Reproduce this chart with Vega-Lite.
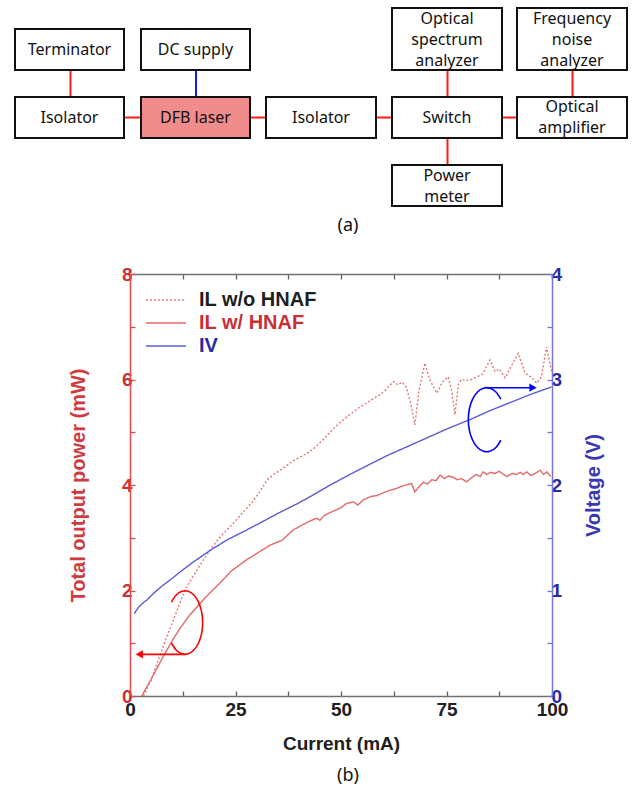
{
  "$schema": "https://vega.github.io/schema/vega-lite/v6.json",
  "background": "white",
  "padding": {"left": 14, "top": 0, "right": 0, "bottom": 0},
  "bounds": "flush",
  "spacing": 34,
  "resolve": {"scale": {"x": "independent", "y": "independent", "color": "independent", "strokeDash": "independent", "stroke": "independent", "fill": "independent"}, "legend": {"color": "independent", "strokeDash": "independent"}},
  "config": {"view": {"stroke": null}, "axis": {"grid": false}},
  "datasets": {
    "boxes": [
      {"label": "Terminator", "kind": "device", "x1": 15, "x2": 124, "y1": 29, "y2": 70, "cx": 69.5, "ty": 49.5},
      {"label": "DC supply", "kind": "device", "x1": 141, "x2": 250, "y1": 29, "y2": 70, "cx": 195.5, "ty": 49.5},
      {"label": "Optical\nspectrum\nanalyzer", "kind": "device", "x1": 392, "x2": 502, "y1": 8, "y2": 70, "cx": 447, "ty": 19},
      {"label": "Frequency\nnoise\nanalyzer", "kind": "device", "x1": 517, "x2": 627, "y1": 8, "y2": 70, "cx": 572, "ty": 19},
      {"label": "Isolator", "kind": "device", "x1": 15, "x2": 124, "y1": 97, "y2": 138, "cx": 69.5, "ty": 117.5},
      {"label": "DFB laser", "kind": "laser", "x1": 141, "x2": 250, "y1": 97, "y2": 138, "cx": 195.5, "ty": 117.5},
      {"label": "Isolator", "kind": "device", "x1": 266, "x2": 376, "y1": 97, "y2": 138, "cx": 321, "ty": 117.5},
      {"label": "Switch", "kind": "device", "x1": 392, "x2": 502, "y1": 97, "y2": 138, "cx": 447, "ty": 117.5},
      {"label": "Optical\namplifier", "kind": "device", "x1": 517, "x2": 627, "y1": 97, "y2": 138, "cx": 572, "ty": 107},
      {"label": "Power\nmeter", "kind": "device", "x1": 392, "x2": 502, "y1": 165, "y2": 206, "cx": 447, "ty": 176}
    ],
    "links": [
      {"kind": "optical", "x1": 70.5, "x2": 70.5, "y1": 70, "y2": 97},
      {"kind": "electrical", "x1": 196, "x2": 196, "y1": 70, "y2": 97},
      {"kind": "optical", "x1": 447.5, "x2": 447.5, "y1": 70, "y2": 97},
      {"kind": "optical", "x1": 572.5, "x2": 572.5, "y1": 70, "y2": 97},
      {"kind": "optical", "x1": 447.5, "x2": 447.5, "y1": 138, "y2": 165},
      {"kind": "optical", "x1": 124, "x2": 141, "y1": 117.5, "y2": 117.5},
      {"kind": "optical", "x1": 250, "x2": 266, "y1": 117.5, "y2": 117.5},
      {"kind": "optical", "x1": 376, "x2": 392, "y1": 117.5, "y2": 117.5},
      {"kind": "optical", "x1": 502, "x2": 517, "y1": 117.5, "y2": 117.5}
    ],
    "captions": [{"label": "(a)", "cx": 348, "ty": 226}],
    "il": [
      {"series": "IL w/o HNAF", "I": 3.2, "P": 0},
      {"series": "IL w/o HNAF", "I": 5, "P": 0.3},
      {"series": "IL w/o HNAF", "I": 7, "P": 0.75},
      {"series": "IL w/o HNAF", "I": 8.7, "P": 1.12},
      {"series": "IL w/o HNAF", "I": 10, "P": 1.38},
      {"series": "IL w/o HNAF", "I": 11.5, "P": 1.7},
      {"series": "IL w/o HNAF", "I": 13, "P": 2.0},
      {"series": "IL w/o HNAF", "I": 15, "P": 2.28},
      {"series": "IL w/o HNAF", "I": 17, "P": 2.53},
      {"series": "IL w/o HNAF", "I": 19, "P": 2.77},
      {"series": "IL w/o HNAF", "I": 21, "P": 2.98},
      {"series": "IL w/o HNAF", "I": 23, "P": 3.15},
      {"series": "IL w/o HNAF", "I": 25, "P": 3.32},
      {"series": "IL w/o HNAF", "I": 27, "P": 3.5},
      {"series": "IL w/o HNAF", "I": 29, "P": 3.68},
      {"series": "IL w/o HNAF", "I": 31, "P": 3.9},
      {"series": "IL w/o HNAF", "I": 32.5, "P": 4.1},
      {"series": "IL w/o HNAF", "I": 34, "P": 4.2},
      {"series": "IL w/o HNAF", "I": 36, "P": 4.3},
      {"series": "IL w/o HNAF", "I": 38.5, "P": 4.45},
      {"series": "IL w/o HNAF", "I": 40, "P": 4.52},
      {"series": "IL w/o HNAF", "I": 42, "P": 4.6},
      {"series": "IL w/o HNAF", "I": 44, "P": 4.72},
      {"series": "IL w/o HNAF", "I": 46, "P": 4.88},
      {"series": "IL w/o HNAF", "I": 48, "P": 5.05},
      {"series": "IL w/o HNAF", "I": 50, "P": 5.2},
      {"series": "IL w/o HNAF", "I": 52, "P": 5.33},
      {"series": "IL w/o HNAF", "I": 54.5, "P": 5.48},
      {"series": "IL w/o HNAF", "I": 56, "P": 5.55},
      {"series": "IL w/o HNAF", "I": 57.7, "P": 5.64},
      {"series": "IL w/o HNAF", "I": 59, "P": 5.7},
      {"series": "IL w/o HNAF", "I": 60.5, "P": 5.8},
      {"series": "IL w/o HNAF", "I": 62.4, "P": 5.96},
      {"series": "IL w/o HNAF", "I": 63.5, "P": 5.9},
      {"series": "IL w/o HNAF", "I": 64.5, "P": 5.95},
      {"series": "IL w/o HNAF", "I": 65.5, "P": 5.85},
      {"series": "IL w/o HNAF", "I": 66.5, "P": 5.55},
      {"series": "IL w/o HNAF", "I": 67.5, "P": 5.14},
      {"series": "IL w/o HNAF", "I": 68.5, "P": 5.8},
      {"series": "IL w/o HNAF", "I": 69.9, "P": 6.31},
      {"series": "IL w/o HNAF", "I": 71, "P": 6.0},
      {"series": "IL w/o HNAF", "I": 72.7, "P": 5.74},
      {"series": "IL w/o HNAF", "I": 74, "P": 5.95},
      {"series": "IL w/o HNAF", "I": 75.4, "P": 6.05},
      {"series": "IL w/o HNAF", "I": 76.2, "P": 5.8},
      {"series": "IL w/o HNAF", "I": 77, "P": 5.33},
      {"series": "IL w/o HNAF", "I": 77.8, "P": 5.9},
      {"series": "IL w/o HNAF", "I": 78.5, "P": 6.0},
      {"series": "IL w/o HNAF", "I": 79.5, "P": 5.98},
      {"series": "IL w/o HNAF", "I": 81, "P": 6.0},
      {"series": "IL w/o HNAF", "I": 82.2, "P": 6.05},
      {"series": "IL w/o HNAF", "I": 83.5, "P": 6.1},
      {"series": "IL w/o HNAF", "I": 85.3, "P": 6.37},
      {"series": "IL w/o HNAF", "I": 86.5, "P": 6.15},
      {"series": "IL w/o HNAF", "I": 87.5, "P": 6.2},
      {"series": "IL w/o HNAF", "I": 88.9, "P": 6.03},
      {"series": "IL w/o HNAF", "I": 90, "P": 6.2},
      {"series": "IL w/o HNAF", "I": 92, "P": 6.5},
      {"series": "IL w/o HNAF", "I": 93.6, "P": 6.12},
      {"series": "IL w/o HNAF", "I": 95, "P": 6.05},
      {"series": "IL w/o HNAF", "I": 96.4, "P": 5.93},
      {"series": "IL w/o HNAF", "I": 97.5, "P": 6.05},
      {"series": "IL w/o HNAF", "I": 98.7, "P": 6.62},
      {"series": "IL w/o HNAF", "I": 99.9, "P": 6.15},
      {"series": "IL w/ HNAF", "I": 2.8, "P": 0},
      {"series": "IL w/ HNAF", "I": 5, "P": 0.32},
      {"series": "IL w/ HNAF", "I": 7.9, "P": 0.75},
      {"series": "IL w/ HNAF", "I": 10, "P": 1.05},
      {"series": "IL w/ HNAF", "I": 12, "P": 1.3},
      {"series": "IL w/ HNAF", "I": 14.2, "P": 1.54},
      {"series": "IL w/ HNAF", "I": 16, "P": 1.7},
      {"series": "IL w/ HNAF", "I": 18, "P": 1.88},
      {"series": "IL w/ HNAF", "I": 21.3, "P": 2.14},
      {"series": "IL w/ HNAF", "I": 24, "P": 2.37},
      {"series": "IL w/ HNAF", "I": 27.6, "P": 2.58},
      {"series": "IL w/ HNAF", "I": 30, "P": 2.7},
      {"series": "IL w/ HNAF", "I": 33.2, "P": 2.86},
      {"series": "IL w/ HNAF", "I": 35, "P": 2.92},
      {"series": "IL w/ HNAF", "I": 36, "P": 2.95},
      {"series": "IL w/ HNAF", "I": 38.7, "P": 3.15},
      {"series": "IL w/ HNAF", "I": 41, "P": 3.25},
      {"series": "IL w/ HNAF", "I": 43, "P": 3.33},
      {"series": "IL w/ HNAF", "I": 44.2, "P": 3.37},
      {"series": "IL w/ HNAF", "I": 45, "P": 3.33},
      {"series": "IL w/ HNAF", "I": 46, "P": 3.42},
      {"series": "IL w/ HNAF", "I": 48, "P": 3.5},
      {"series": "IL w/ HNAF", "I": 49.8, "P": 3.56},
      {"series": "IL w/ HNAF", "I": 51.3, "P": 3.65},
      {"series": "IL w/ HNAF", "I": 53, "P": 3.68},
      {"series": "IL w/ HNAF", "I": 54, "P": 3.62},
      {"series": "IL w/ HNAF", "I": 55.3, "P": 3.72},
      {"series": "IL w/ HNAF", "I": 57, "P": 3.78},
      {"series": "IL w/ HNAF", "I": 58.5, "P": 3.8},
      {"series": "IL w/ HNAF", "I": 60, "P": 3.85},
      {"series": "IL w/ HNAF", "I": 61.6, "P": 3.9},
      {"series": "IL w/ HNAF", "I": 63, "P": 3.93},
      {"series": "IL w/ HNAF", "I": 64.5, "P": 3.98},
      {"series": "IL w/ HNAF", "I": 65.5, "P": 4.0},
      {"series": "IL w/ HNAF", "I": 66.7, "P": 4.03},
      {"series": "IL w/ HNAF", "I": 67.5, "P": 3.87},
      {"series": "IL w/ HNAF", "I": 68.3, "P": 3.95},
      {"series": "IL w/ HNAF", "I": 69.5, "P": 4.05},
      {"series": "IL w/ HNAF", "I": 70.5, "P": 4.02},
      {"series": "IL w/ HNAF", "I": 71.5, "P": 4.1},
      {"series": "IL w/ HNAF", "I": 72.5, "P": 4.08},
      {"series": "IL w/ HNAF", "I": 73.5, "P": 4.19},
      {"series": "IL w/ HNAF", "I": 74.5, "P": 4.12},
      {"series": "IL w/ HNAF", "I": 75.5, "P": 4.17},
      {"series": "IL w/ HNAF", "I": 76.5, "P": 4.15},
      {"series": "IL w/ HNAF", "I": 77.5, "P": 4.1},
      {"series": "IL w/ HNAF", "I": 78.5, "P": 4.12},
      {"series": "IL w/ HNAF", "I": 79.8, "P": 4.06},
      {"series": "IL w/ HNAF", "I": 81, "P": 4.14},
      {"series": "IL w/ HNAF", "I": 82, "P": 4.2},
      {"series": "IL w/ HNAF", "I": 83, "P": 4.16},
      {"series": "IL w/ HNAF", "I": 83.7, "P": 4.25},
      {"series": "IL w/ HNAF", "I": 84.5, "P": 4.2},
      {"series": "IL w/ HNAF", "I": 85.5, "P": 4.24},
      {"series": "IL w/ HNAF", "I": 86.5, "P": 4.22},
      {"series": "IL w/ HNAF", "I": 87.5, "P": 4.26},
      {"series": "IL w/ HNAF", "I": 88.5, "P": 4.2},
      {"series": "IL w/ HNAF", "I": 89.3, "P": 4.16},
      {"series": "IL w/ HNAF", "I": 90.5, "P": 4.22},
      {"series": "IL w/ HNAF", "I": 91.5, "P": 4.2},
      {"series": "IL w/ HNAF", "I": 92.5, "P": 4.24},
      {"series": "IL w/ HNAF", "I": 93.2, "P": 4.2},
      {"series": "IL w/ HNAF", "I": 94, "P": 4.25},
      {"series": "IL w/ HNAF", "I": 95, "P": 4.18},
      {"series": "IL w/ HNAF", "I": 96, "P": 4.22},
      {"series": "IL w/ HNAF", "I": 97.2, "P": 4.28},
      {"series": "IL w/ HNAF", "I": 98, "P": 4.2},
      {"series": "IL w/ HNAF", "I": 98.8, "P": 4.25},
      {"series": "IL w/ HNAF", "I": 99.7, "P": 4.16}
    ],
    "iv": [
      {"series": "IV", "I": 1.0, "V": 0.78},
      {"series": "IV", "I": 2, "V": 0.84},
      {"series": "IV", "I": 3, "V": 0.88},
      {"series": "IV", "I": 4, "V": 0.91},
      {"series": "IV", "I": 5.5, "V": 0.97},
      {"series": "IV", "I": 7.5, "V": 1.04},
      {"series": "IV", "I": 9.5, "V": 1.1},
      {"series": "IV", "I": 12, "V": 1.18},
      {"series": "IV", "I": 15, "V": 1.27},
      {"series": "IV", "I": 19, "V": 1.38},
      {"series": "IV", "I": 23, "V": 1.48},
      {"series": "IV", "I": 27, "V": 1.56},
      {"series": "IV", "I": 30.8, "V": 1.64},
      {"series": "IV", "I": 35, "V": 1.73},
      {"series": "IV", "I": 40, "V": 1.83},
      {"series": "IV", "I": 42.7, "V": 1.89},
      {"series": "IV", "I": 47, "V": 1.99},
      {"series": "IV", "I": 52.1, "V": 2.1},
      {"series": "IV", "I": 57, "V": 2.2},
      {"series": "IV", "I": 61, "V": 2.28},
      {"series": "IV", "I": 65.5, "V": 2.36},
      {"series": "IV", "I": 70, "V": 2.44},
      {"series": "IV", "I": 75, "V": 2.53},
      {"series": "IV", "I": 80.6, "V": 2.62},
      {"series": "IV", "I": 85, "V": 2.7},
      {"series": "IV", "I": 90, "V": 2.78},
      {"series": "IV", "I": 95, "V": 2.86},
      {"series": "IV", "I": 99.9, "V": 2.93}
    ],
    "annot": [
      {"side": "red", "part": "arc", "k": 0, "I": 9.82, "P": 1.781},
      {"side": "red", "part": "arc", "k": 1, "I": 10.94, "P": 1.915},
      {"side": "red", "part": "arc", "k": 2, "I": 12.30, "P": 1.987},
      {"side": "red", "part": "arc", "k": 3, "I": 13.76, "P": 1.987},
      {"side": "red", "part": "arc", "k": 4, "I": 15.13, "P": 1.915},
      {"side": "red", "part": "arc", "k": 5, "I": 16.24, "P": 1.781},
      {"side": "red", "part": "arc", "k": 6, "I": 16.97, "P": 1.599},
      {"side": "red", "part": "arc", "k": 7, "I": 17.22, "P": 1.393},
      {"side": "red", "part": "arc", "k": 8, "I": 16.97, "P": 1.187},
      {"side": "red", "part": "arc", "k": 9, "I": 16.24, "P": 1.005},
      {"side": "red", "part": "arc", "k": 10, "I": 15.13, "P": 0.871},
      {"side": "red", "part": "arc", "k": 11, "I": 13.76, "P": 0.799},
      {"side": "red", "part": "arc", "k": 12, "I": 12.30, "P": 0.799},
      {"side": "red", "part": "arc", "k": 13, "I": 10.94, "P": 0.871},
      {"side": "red", "part": "arc", "k": 14, "I": 9.82, "P": 1.005},
      {"side": "red", "part": "arrow", "k": 0, "I": 13.03, "P": 0.79},
      {"side": "red", "part": "arrow", "k": 1, "I": 2.6, "P": 0.79},
      {"side": "blue", "part": "arc", "k": 0, "I": 87.87, "P": 5.628},
      {"side": "blue", "part": "arc", "k": 1, "I": 86.71, "P": 5.764},
      {"side": "blue", "part": "arc", "k": 2, "I": 85.29, "P": 5.836},
      {"side": "blue", "part": "arc", "k": 3, "I": 83.77, "P": 5.836},
      {"side": "blue", "part": "arc", "k": 4, "I": 82.35, "P": 5.764},
      {"side": "blue", "part": "arc", "k": 5, "I": 81.19, "P": 5.628},
      {"side": "blue", "part": "arc", "k": 6, "I": 80.43, "P": 5.446},
      {"side": "blue", "part": "arc", "k": 7, "I": 80.17, "P": 5.238},
      {"side": "blue", "part": "arc", "k": 8, "I": 80.43, "P": 5.030},
      {"side": "blue", "part": "arc", "k": 9, "I": 81.19, "P": 4.848},
      {"side": "blue", "part": "arc", "k": 10, "I": 82.35, "P": 4.712},
      {"side": "blue", "part": "arc", "k": 11, "I": 83.77, "P": 4.640},
      {"side": "blue", "part": "arc", "k": 12, "I": 85.29, "P": 4.640},
      {"side": "blue", "part": "arc", "k": 13, "I": 86.71, "P": 4.712},
      {"side": "blue", "part": "arc", "k": 14, "I": 87.87, "P": 4.848},
      {"side": "blue", "part": "arrow", "k": 0, "I": 84.53, "P": 5.845},
      {"side": "blue", "part": "arrow", "k": 1, "I": 95.0, "P": 5.845}
    ],
    "heads": [
      {"side": "red", "I": 2.2, "P": 0.79},
      {"side": "blue", "I": 95.5, "P": 5.845}
    ]
  },
  "vconcat": [
    {
      "width": 422,
      "height": 240,
      "layer": [
        {
          "data": {"name": "links"},
          "mark": {"type": "rule", "strokeWidth": 2},
          "encoding": {
            "x": {"field": "x1", "type": "quantitative", "scale": {"domain": [130, 552], "nice": false, "zero": false}, "axis": null},
            "x2": {"field": "x2"},
            "y": {"field": "y1", "type": "quantitative", "scale": {"domain": [0, 240], "nice": false, "zero": false, "reverse": true}, "axis": null},
            "y2": {"field": "y2"},
            "stroke": {"field": "kind", "type": "nominal", "scale": {"domain": ["optical", "electrical"], "range": ["#FF1A1A", "#1A1AFF"]}, "legend": null}
          }
        },
        {
          "data": {"name": "boxes"},
          "mark": {"type": "rect", "stroke": "#111111", "strokeWidth": 2},
          "encoding": {
            "x": {"field": "x1", "type": "quantitative", "scale": {"domain": [130, 552], "nice": false, "zero": false}, "axis": null},
            "x2": {"field": "x2"},
            "y": {"field": "y1", "type": "quantitative", "scale": {"domain": [0, 240], "nice": false, "zero": false, "reverse": true}, "axis": null},
            "y2": {"field": "y2"},
            "fill": {"field": "kind", "type": "nominal", "scale": {"domain": ["device", "laser"], "range": ["#FFFFFF", "#F08C8C"]}, "legend": null}
          }
        },
        {
          "data": {"name": "boxes"},
          "mark": {"type": "text", "font": "Noto Sans", "fontSize": 16, "lineBreak": "\n", "lineHeight": 21, "baseline": "middle", "align": "center", "color": "#111111"},
          "encoding": {
            "x": {"field": "cx", "type": "quantitative", "scale": {"domain": [130, 552], "nice": false, "zero": false}, "axis": null},
            "y": {"field": "ty", "type": "quantitative", "scale": {"domain": [0, 240], "nice": false, "zero": false, "reverse": true}, "axis": null},
            "text": {"field": "label"}
          }
        },
        {
          "data": {"name": "captions"},
          "mark": {"type": "text", "font": "Noto Sans", "fontSize": 18, "baseline": "middle", "align": "center", "color": "#111111"},
          "encoding": {
            "x": {"field": "cx", "type": "quantitative", "scale": {"domain": [130, 552], "nice": false, "zero": false}, "axis": null},
            "y": {"field": "ty", "type": "quantitative", "scale": {"domain": [0, 240], "nice": false, "zero": false, "reverse": true}, "axis": null},
            "text": {"field": "label"}
          }
        }
      ]
    },
    {
      "width": 422,
      "height": 422,
      "title": {"text": "(b)", "orient": "bottom", "frame": "group", "anchor": "middle", "font": "Noto Sans", "fontSize": 18, "fontWeight": "normal", "color": "#111111", "offset": 14, "dx": 7},
      "resolve": {"scale": {"y": "independent"}, "axis": {"x": "independent", "y": "independent"}},
      "layer": [
        {
          "data": {"name": "il"},
          "mark": {"type": "line", "strokeWidth": 1.4},
          "encoding": {
            "x": {"field": "I", "type": "quantitative", "scale": {"domain": [0, 100], "nice": false, "zero": false},
              "axis": {"orient": "bottom", "values": [0, 12.5, 25, 37.5, 50, 62.5, 75, 87.5, 100], "labelExpr": "datum.value % 25 === 0 ? datum.label : ''", "domainColor": "#707070", "domainWidth": 1.5, "tickColor": "#606060", "tickSize": -5, "tickWidth": 1.3, "labelFont": "Liberation Sans", "labelFontSize": 19, "labelFontWeight": "bold", "labelColor": "#202020", "labelPadding": 9, "labelFlush": false, "labelOverlap": false, "title": "Current (mA)", "titleFont": "Liberation Sans", "titleFontSize": 19, "titleFontWeight": "bold", "titleColor": "#202020", "titlePadding": 15, "grid": false}},
            "y": {"field": "P", "type": "quantitative", "scale": {"domain": [0, 8], "nice": false},
              "axis": {"orient": "left", "values": [0, 1, 2, 3, 4, 5, 6, 7, 8], "labelExpr": "datum.value % 2 === 0 ? datum.label : ''", "domainColor": "#E24A4A", "domainWidth": 1.5, "tickColor": "#E24A4A", "tickSize": -5, "tickWidth": 1.3, "labelFont": "Liberation Sans", "labelFontSize": 19, "labelFontWeight": "bold", "labelColor": "#C92F37", "labelPadding": 3, "labelOverlap": false, "title": "Total output power (mW)", "titleFont": "Liberation Sans", "titleFontSize": 20, "titleFontWeight": "bold", "titleColor": "#CF3A3F", "titlePadding": 33, "grid": false}},
            "color": {"field": "series", "type": "nominal", "scale": {"domain": ["IL w/o HNAF", "IL w/ HNAF", "IV"], "range": ["#E27878", "#E26A6A", "#5B5BD6"]},
              "legend": {"title": null, "orient": "top-left", "offset": 15, "padding": 0, "symbolType": "M-1,0H3", "symbolSize": 400, "symbolStrokeWidth": 1.5, "labelFont": "Liberation Sans", "labelFontSize": 20, "labelFontWeight": "bold", "labelOffset": 32, "rowPadding": 2, "labelLimit": 300,
                "encode": {"labels": {"update": {"fill": {"signal": "datum.label === 'IV' ? '#2B2B9E' : (datum.label === 'IL w/ HNAF' ? '#C92F37' : '#1E1E1E')"}}}}}},
            "strokeDash": {"field": "series", "type": "nominal", "scale": {"domain": ["IL w/o HNAF", "IL w/ HNAF", "IV"], "range": [[2, 2], [1, 0], [1, 0]]},
              "legend": {"title": null, "orient": "top-left", "offset": 15, "padding": 0, "symbolType": "M-1,0H3", "symbolSize": 400, "symbolStrokeWidth": 1.5, "labelFont": "Liberation Sans", "labelFontSize": 20, "labelFontWeight": "bold", "labelOffset": 32, "rowPadding": 2, "labelLimit": 300,
                "encode": {"labels": {"update": {"fill": {"signal": "datum.label === 'IV' ? '#2B2B9E' : (datum.label === 'IL w/ HNAF' ? '#C92F37' : '#1E1E1E')"}}}}}}
          }
        },
        {
          "data": {"name": "iv"},
          "mark": {"type": "line", "strokeWidth": 1.4},
          "encoding": {
            "x": {"field": "I", "type": "quantitative", "scale": {"domain": [0, 100], "nice": false, "zero": false},
              "axis": {"orient": "top", "values": [0, 12.5, 25, 37.5, 50, 62.5, 75, 87.5, 100], "labels": false, "title": null, "domainColor": "#707070", "domainWidth": 1.5, "tickColor": "#606060", "tickSize": -5, "tickWidth": 1.3, "grid": false}},
            "y": {"field": "V", "type": "quantitative", "scale": {"domain": [0, 4], "nice": false},
              "axis": {"orient": "right", "values": [0, 0.5, 1, 1.5, 2, 2.5, 3, 3.5, 4], "labelExpr": "datum.value % 1 === 0 ? format(datum.value, 'd') : ''", "domainColor": "#7474DC", "domainWidth": 1.5, "tickColor": "#7474DC", "tickSize": -5, "tickWidth": 1.3, "labelFont": "Liberation Sans", "labelFontSize": 19, "labelFontWeight": "bold", "labelColor": "#2B2B9E", "labelPadding": 4, "labelOverlap": false, "title": "Voltage (V)", "titleAngle": 270, "titleBaseline": "top", "titleFont": "Liberation Sans", "titleFontSize": 20, "titleFontWeight": "bold", "titleColor": "#3838B2", "titlePadding": 22, "grid": false}},
            "color": {"field": "series", "type": "nominal", "scale": {"domain": ["IL w/o HNAF", "IL w/ HNAF", "IV"], "range": ["#E27878", "#E26A6A", "#5B5BD6"]},
              "legend": {"title": null, "orient": "top-left", "offset": 15, "padding": 0, "symbolType": "M-1,0H3", "symbolSize": 400, "symbolStrokeWidth": 1.5, "labelFont": "Liberation Sans", "labelFontSize": 20, "labelFontWeight": "bold", "labelOffset": 32, "rowPadding": 2, "labelLimit": 300,
                "encode": {"labels": {"update": {"fill": {"signal": "datum.label === 'IV' ? '#2B2B9E' : (datum.label === 'IL w/ HNAF' ? '#C92F37' : '#1E1E1E')"}}}}}},
            "strokeDash": {"field": "series", "type": "nominal", "scale": {"domain": ["IL w/o HNAF", "IL w/ HNAF", "IV"], "range": [[2, 2], [1, 0], [1, 0]]},
              "legend": {"title": null, "orient": "top-left", "offset": 15, "padding": 0, "symbolType": "M-1,0H3", "symbolSize": 400, "symbolStrokeWidth": 1.5, "labelFont": "Liberation Sans", "labelFontSize": 20, "labelFontWeight": "bold", "labelOffset": 32, "rowPadding": 2, "labelLimit": 300,
                "encode": {"labels": {"update": {"fill": {"signal": "datum.label === 'IV' ? '#2B2B9E' : (datum.label === 'IL w/ HNAF' ? '#C92F37' : '#1E1E1E')"}}}}}}
          }
        },
        {
          "data": {"name": "annot"},
          "transform": [{"filter": "datum.side === 'red'"}],
          "mark": {"type": "line", "color": "#FF0000", "strokeWidth": 1.6, "interpolate": "cardinal"},
          "encoding": {
            "x": {"field": "I", "type": "quantitative", "scale": {"domain": [0, 100], "nice": false, "zero": false}, "axis": null},
            "y": {"field": "P", "type": "quantitative", "scale": {"domain": [0, 8], "nice": false}, "axis": null},
            "detail": {"field": "part", "type": "nominal"},
            "order": {"field": "k", "type": "quantitative"}
          }
        },
        {
          "data": {"name": "heads"},
          "transform": [{"filter": "datum.side === 'red'"}],
          "mark": {"type": "point", "shape": "triangle-left", "filled": true, "color": "#FF0000", "size": 70, "opacity": 1},
          "encoding": {
            "x": {"field": "I", "type": "quantitative", "scale": {"domain": [0, 100], "nice": false, "zero": false}, "axis": null},
            "y": {"field": "P", "type": "quantitative", "scale": {"domain": [0, 8], "nice": false}, "axis": null}
          }
        },
        {
          "data": {"name": "annot"},
          "transform": [{"filter": "datum.side === 'blue'"}],
          "mark": {"type": "line", "color": "#0000FF", "strokeWidth": 1.6, "interpolate": "cardinal"},
          "encoding": {
            "x": {"field": "I", "type": "quantitative", "scale": {"domain": [0, 100], "nice": false, "zero": false}, "axis": null},
            "y": {"field": "P", "type": "quantitative", "scale": {"domain": [0, 8], "nice": false}, "axis": null},
            "detail": {"field": "part", "type": "nominal"},
            "order": {"field": "k", "type": "quantitative"}
          }
        },
        {
          "data": {"name": "heads"},
          "transform": [{"filter": "datum.side === 'blue'"}],
          "mark": {"type": "point", "shape": "triangle-right", "filled": true, "color": "#0000FF", "size": 70, "opacity": 1},
          "encoding": {
            "x": {"field": "I", "type": "quantitative", "scale": {"domain": [0, 100], "nice": false, "zero": false}, "axis": null},
            "y": {"field": "P", "type": "quantitative", "scale": {"domain": [0, 8], "nice": false}, "axis": null}
          }
        }
      ]
    }
  ]
}
